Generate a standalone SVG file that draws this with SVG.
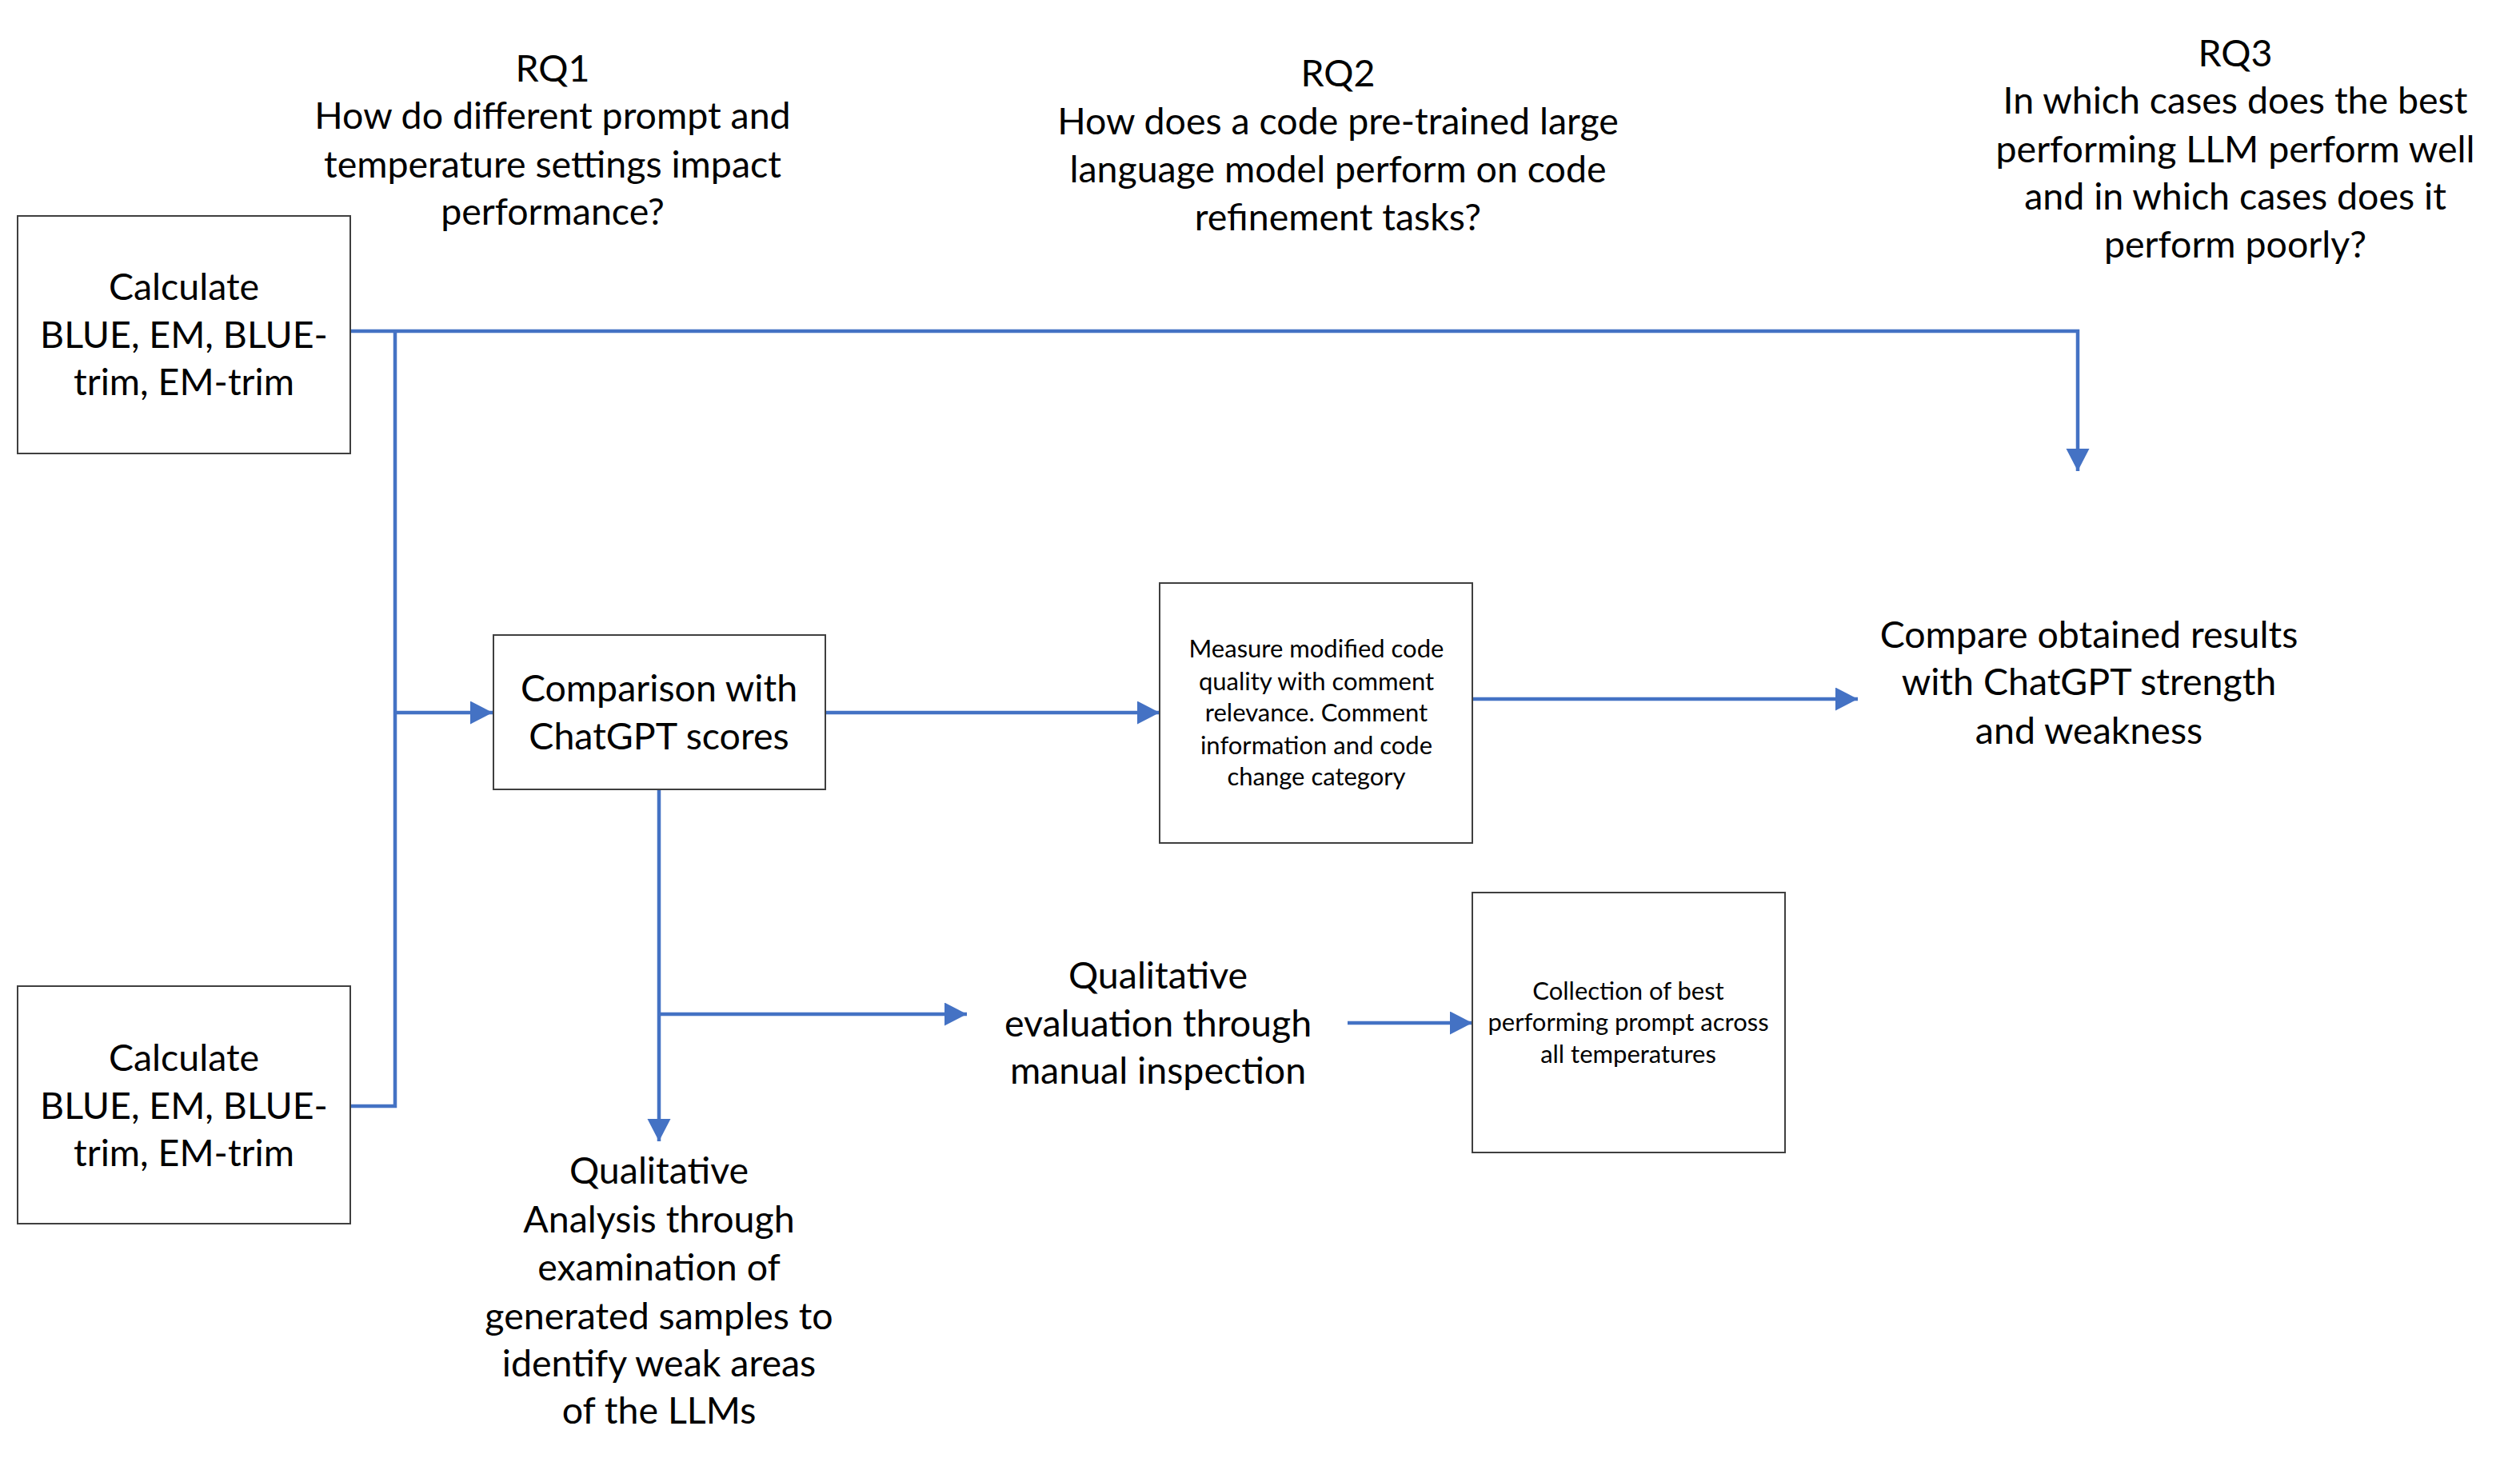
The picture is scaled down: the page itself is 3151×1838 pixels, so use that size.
<svg xmlns="http://www.w3.org/2000/svg" width="3151" height="1838" viewBox="0 0 3151 1838">
<style>
  .bg { fill: #ffffff; }
  .box { fill: #ffffff; stroke: #3f3f3f; stroke-width: 2; }
  .t { font-family: Lato, "Liberation Sans", sans-serif; font-size: 46.5px; fill: #000000; text-anchor: middle; }
  .s { font-family: Lato, "Liberation Sans", sans-serif; font-size: 31px; fill: #000000; text-anchor: middle; }
  .c { fill: none; stroke: #4472C4; stroke-width: 4.5; }
</style>
<defs>
  <marker id="arr" markerUnits="userSpaceOnUse" markerWidth="30" markerHeight="30" refX="28" refY="14.5" orient="auto">
    <path d="M0,0 L28,14.5 L0,29 Z" fill="#4472C4"/>
  </marker>
</defs>
<rect class="bg" x="0" y="0" width="3151" height="1838"/>

<g id="rq1">
  <text class="t" x="691" y="102">RQ1</text>
  <text class="t" x="691" y="161">How do different prompt and</text>
  <text class="t" x="691" y="222">temperature settings impact</text>
  <text class="t" x="691" y="281">performance?</text>
</g>
<g id="rq2">
  <text class="t" x="1673" y="108">RQ2</text>
  <text class="t" x="1673" y="168">How does a code pre-trained large</text>
  <text class="t" x="1673" y="228">language model perform on code</text>
  <text class="t" x="1673" y="288">refinement tasks?</text>
</g>
<g id="rq3">
  <text class="t" x="2795" y="83">RQ3</text>
  <text class="t" x="2795" y="142">In which cases does the best</text>
  <text class="t" x="2795" y="203">performing LLM perform well</text>
  <text class="t" x="2795" y="262">and in which cases does it</text>
  <text class="t" x="2795" y="322">perform poorly?</text>
</g>

<g id="connectors">
  <polyline class="c" points="436,414 2598,414 2598,589" marker-end="url(#arr)"/>
  <polyline class="c" points="438,1383 494,1383 494,414"/>
  <line class="c" x1="494" y1="891" x2="616" y2="891" marker-end="url(#arr)"/>
  <line class="c" x1="1032" y1="891" x2="1450" y2="891" marker-end="url(#arr)"/>
  <line class="c" x1="1841" y1="874" x2="2323" y2="874" marker-end="url(#arr)"/>
  <line class="c" x1="824" y1="987" x2="824" y2="1427" marker-end="url(#arr)"/>
  <line class="c" x1="824" y1="1268" x2="1209" y2="1268" marker-end="url(#arr)"/>
  <line class="c" x1="1685" y1="1279" x2="1841" y2="1279" marker-end="url(#arr)"/>
</g>

<g id="calc1">
  <rect class="box" x="22" y="270" width="416" height="297"/>
  <text class="t" x="230" y="375">Calculate</text>
  <text class="t" x="230" y="435">BLUE, EM, BLUE-</text>
  <text class="t" x="230" y="494">trim, EM-trim</text>
</g>
<g id="calc2">
  <rect class="box" x="22" y="1233" width="416" height="297"/>
  <text class="t" x="230" y="1339">Calculate</text>
  <text class="t" x="230" y="1399">BLUE, EM, BLUE-</text>
  <text class="t" x="230" y="1458">trim, EM-trim</text>
</g>
<g id="comparison">
  <rect class="box" x="617" y="794" width="415" height="193"/>
  <text class="t" x="824" y="877">Comparison with</text>
  <text class="t" x="824" y="937">ChatGPT scores</text>
</g>
<g id="measure">
  <rect class="box" x="1450" y="729" width="391" height="325"/>
  <text class="s" x="1646" y="822">Measure modified code</text>
  <text class="s" x="1646" y="863">quality with comment</text>
  <text class="s" x="1646" y="902">relevance. Comment</text>
  <text class="s" x="1646" y="943">information and code</text>
  <text class="s" x="1646" y="982">change category</text>
</g>
<g id="compare">
  <text class="t" x="2612" y="810">Compare obtained results</text>
  <text class="t" x="2612" y="869">with ChatGPT strength</text>
  <text class="t" x="2612" y="930">and weakness</text>
</g>
<g id="qual-analysis">
  <text class="t" x="824" y="1480">Qualitative</text>
  <text class="t" x="824" y="1541">Analysis through</text>
  <text class="t" x="824" y="1601">examination of</text>
  <text class="t" x="824" y="1662">generated samples to</text>
  <text class="t" x="824" y="1721">identify weak areas</text>
  <text class="t" x="824" y="1780">of the LLMs</text>
</g>
<g id="qual-eval">
  <text class="t" x="1448" y="1236">Qualitative</text>
  <text class="t" x="1448" y="1296">evaluation through</text>
  <text class="t" x="1448" y="1355">manual inspection</text>
</g>
<g id="collection">
  <rect class="box" x="1841" y="1116" width="391" height="325"/>
  <text class="s" x="2036" y="1250">Collection of best</text>
  <text class="s" x="2036" y="1289">performing prompt across</text>
  <text class="s" x="2036" y="1329">all temperatures</text>
</g>
</svg>
